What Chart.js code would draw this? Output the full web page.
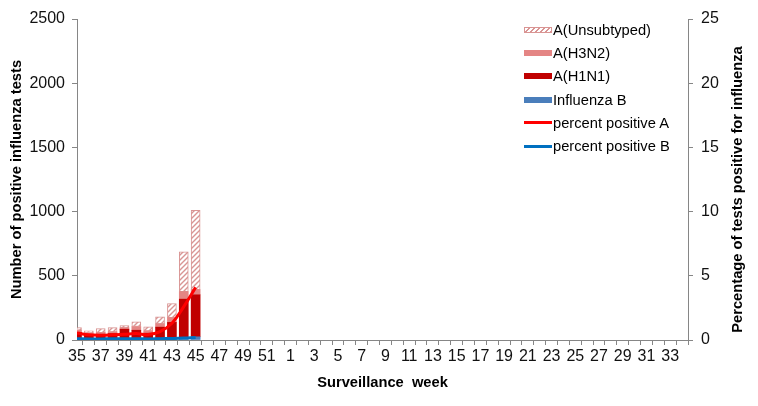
<!DOCTYPE html>
<html>
<head>
<meta charset="utf-8">
<script src="https://cdn.jsdelivr.net/npm/chart.js"></script>
<style>
  body { margin: 0; background: #fff; }
  #wrap { position: relative; width: 758px; height: 406px; }
  #legend { position: absolute; left: 524px; top: 18px; font-family: "Liberation Sans", Arial, sans-serif; font-size: 14.7px; color: #000; }
  #legend .item { height: 23.3px; display: flex; align-items: center; }
  #legend .mark { width: 28px; margin-right: 1px; }
</style>
</head>
<body>
<div id="wrap">
  <canvas id="myChart" width="758" height="406"></canvas>
  <div id="legend"></div>
</div>
<script>
// weeks 35..52 then 1..34
var weeks = [35,36,37,38,39,40,41,42,43,44,45,46,47,48,49,50,51,52,
  1,2,3,4,5,6,7,8,9,10,11,12,13,14,15,16,17,18,19,20,21,22,23,24,25,26,27,28,29,30,31,32,33,34];

// counts, weeks 35-45 (rest not yet reported)
var fluB       = [12, 10, 10, 12, 12, 12, 10, 14, 14, 18, 25];
var h1n1       = [48, 32, 35, 38, 72, 64, 43, 86, 123, 300, 327];
var h3n2       = [16, 13, 13, 12, 11, 29, 17, 26, 37, 58, 40];
var unsubtyped = [21, 16, 31, 35, 18, 37, 33, 55, 110, 311, 618];

// percent positive
var pctA = [0.55, 0.4, 0.37, 0.4, 0.45, 0.5, 0.42, 0.65, 1.3, 2.6, 4.1];
var pctB = [0.1, 0.08, 0.08, 0.1, 0.1, 0.1, 0.08, 0.1, 0.12, 0.15, 0.2];

var leftTicks = [0, 500, 1000, 1500, 2000, 2500];
var rightTicks = [0, 5, 10, 15, 20, 25];

function pts(arr) {
  return arr.map(function (v, i) { return { x: i, y: v }; });
}

// hatch for A(Unsubtyped)
var pc = document.createElement('canvas');
pc.width = 5; pc.height = 5;
var pctx = pc.getContext('2d');
pctx.fillStyle = '#fff';
pctx.fillRect(0, 0, 5, 5);
pctx.strokeStyle = '#d99594';
pctx.lineWidth = 1.4;
pctx.beginPath();
pctx.moveTo(0, 5); pctx.lineTo(5, 0);
pctx.moveTo(-1, 1); pctx.lineTo(1, -1);
pctx.moveTo(4, 6); pctx.lineTo(6, 4);
pctx.stroke();
var ctx = document.getElementById('myChart').getContext('2d');
var hatch = ctx.createPattern(pc, 'repeat');

var font = '"Liberation Sans", Arial, sans-serif';

var rightTitle = {
  id: 'rightTitle',
  afterDraw: function (chart) {
    var c = chart.ctx, a = chart.chartArea;
    c.save();
    c.translate(738, (a.top + a.bottom) / 2 + 10);
    c.rotate(-Math.PI / 2);
    c.font = 'bold 14.7px ' + font;
    c.fillStyle = '#000';
    c.textAlign = 'center';
    c.textBaseline = 'middle';
    c.fillText('Percentage of tests positive for influenza', 0, 0);
    c.restore();
  }
};

var barCommon = { type: 'bar', yAxisID: 'y', stack: 'a', barThickness: 9, clip: 0, order: 2 };

var myChart = new Chart(ctx, {
  data: {
    datasets: [
      Object.assign({ label: 'Influenza B', data: pts(fluB), backgroundColor: '#4a7ebb' }, barCommon),
      Object.assign({ label: 'A(H1N1)', data: pts(h1n1), backgroundColor: '#c00000' }, barCommon),
      Object.assign({ label: 'A(H3N2)', data: pts(h3n2), backgroundColor: '#e48584' }, barCommon),
      Object.assign({ label: 'A(Unsubtyped)', data: pts(unsubtyped), backgroundColor: hatch,
        borderColor: '#d99594', borderWidth: 1, borderSkipped: false }, barCommon),
      { type: 'line', label: 'percent positive A', data: pts(pctA), yAxisID: 'y1',
        borderColor: '#ff0000', borderWidth: 3, pointRadius: 0, tension: 0.4, order: 0 },
      { type: 'line', label: 'percent positive B', data: pts(pctB), yAxisID: 'y1',
        borderColor: '#0070c0', borderWidth: 3, pointRadius: 0, tension: 0.4, order: 0 }
    ]
  },
  options: {
    responsive: false,
    animation: false,
    layout: { padding: { top: 19, left: 0, right: 0, bottom: 0 } },
    plugins: { legend: { display: false }, tooltip: { enabled: false } },
    scales: {
      x: {
        type: 'linear', min: 0, max: 51.5, stacked: true, offset: false,
        grid: { drawOnChartArea: false, tickLength: 5, color: '#868686' },
        border: { color: '#868686' },
        ticks: {
          stepSize: 1, autoSkip: false, maxRotation: 0, includeBounds: false,
          color: '#111', font: { family: font, size: 16 }, padding: 2,
          callback: function (v) { return (v % 2 === 0 && weeks[v] !== undefined) ? String(weeks[v]) : ''; }
        },
        title: { display: true, text: 'Surveillance  week', color: '#000',
          font: { family: font, size: 14.7, weight: 'bold' }, padding: { top: 0, bottom: 14 } },
        afterFit: function (s) { s.height = 66; }
      },
      y: {
        position: 'left', stacked: true, min: 0, max: 2500,
        grid: { drawOnChartArea: false, tickLength: 5, color: '#868686' },
        border: { color: '#868686' },
        afterBuildTicks: function (s) { s.ticks = leftTicks.map(function (v) { return { value: v }; }); },
        ticks: { color: '#111', font: { family: font, size: 16 }, padding: 7,
          callback: function (v) { return String(v); } },
        title: { display: true, text: 'Number of positive influenza tests', color: '#000',
          font: { family: font, size: 14.7, weight: 'bold' }, padding: { top: 8, bottom: 0 } },
        afterFit: function (s) { s.width = 77; }
      },
      y1: {
        position: 'right', min: 0, max: 25,
        grid: { drawOnChartArea: false, tickLength: 5, color: '#868686' },
        border: { color: '#868686' },
        afterBuildTicks: function (s) { s.ticks = rightTicks.map(function (v) { return { value: v }; }); },
        ticks: { color: '#111', font: { family: font, size: 16 }, padding: 8,
          callback: function (v) { return String(v); } },
        afterFit: function (s) { s.width = 70; }
      }
    }
  },
  plugins: [rightTitle]
});

// legend, top to bottom as in the original
var legendItems = [
  { text: 'A(Unsubtyped)', css: 'height:6px;box-sizing:border-box;border:1px solid #d99594;background:repeating-linear-gradient(-45deg,#d99594 0 1.2px,#fff 1.2px 3.5px);' },
  { text: 'A(H3N2)', css: 'height:6px;background:#e48584;' },
  { text: 'A(H1N1)', css: 'height:6px;background:#c00000;' },
  { text: 'Influenza B', css: 'height:6px;background:#4a7ebb;' },
  { text: 'percent positive A', css: 'height:3px;background:#ff0000;' },
  { text: 'percent positive B', css: 'height:3px;background:#0070c0;' }
];
var lg = document.getElementById('legend');
legendItems.forEach(function (it) {
  var d = document.createElement('div');
  d.className = 'item';
  d.innerHTML = '<span class="mark" style="' + it.css + '"></span><span>' + it.text + '</span>';
  lg.appendChild(d);
});
</script>
</body>
</html>
